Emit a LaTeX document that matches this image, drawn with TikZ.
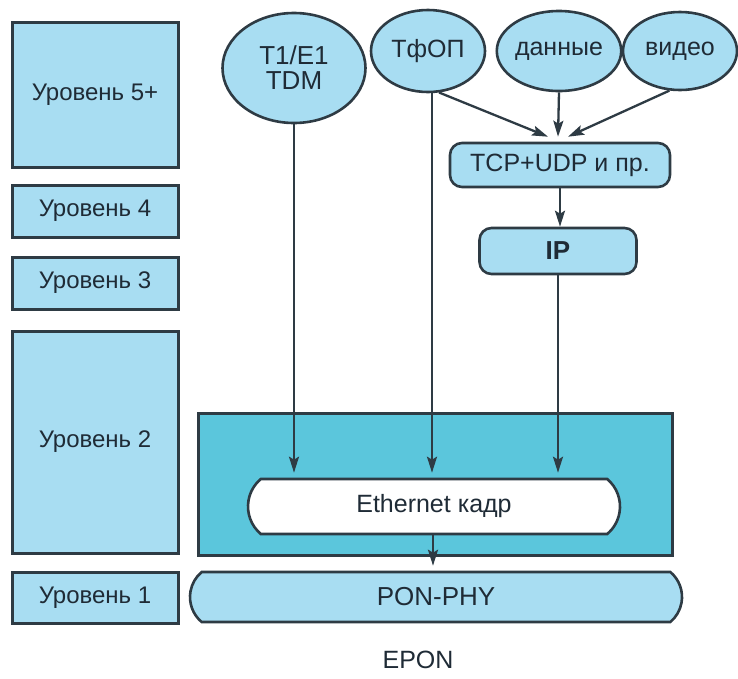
\documentclass[tikz,border=0pt]{standalone}
\usepackage{fontspec}
\setmainfont{Liberation Sans}
\usetikzlibrary{shapes.geometric,shapes.misc,arrows.meta,calc}
\definecolor{lb}{HTML}{A8DDF2}
\definecolor{teal2}{HTML}{5BC6DC}
\definecolor{edge}{HTML}{2E3B44}
\definecolor{txt}{HTML}{1F2B36}
\begin{document}
\begin{tikzpicture}[x=1pt,y=-1pt,
  lvl/.style={draw=edge,line width=3pt,fill=lb,minimum width=166pt,inner sep=0pt,text=txt,font=\fontsize{24}{26}\selectfont},
  ell/.style={ellipse,draw=edge,line width=2.6pt,fill=lb,inner sep=0pt,text=txt,font=\fontsize{25}{27}\selectfont},
  rbox/.style={rectangle,rounded corners=12pt,draw=edge,line width=2.6pt,fill=lb,inner sep=0pt,text=txt,font=\fontsize{25}{27}\selectfont},
  pill/.style={rounded rectangle,rounded rectangle arc length=100,draw=edge,line width=2.6pt,inner sep=0pt,text=txt,font=\fontsize{25}{27}\selectfont},
  arr/.style={draw=edge,line width=2.3pt,-{Stealth[length=16pt,width=10pt,inset=3pt]}},
  plain/.style={draw=edge,line width=2.3pt}]
\useasboundingbox (0,0) rectangle (738,678);
% level boxes
\node[lvl,minimum height=145pt] (l5) at (95,95) {Уровень 5+};
\node[lvl,minimum height=52pt] (l4) at (95,211) {Уровень 4};
\node[lvl,minimum height=52pt] (l3) at (95,283) {Уровень 3};
\node[lvl,minimum height=222pt] (l2) at (95,442) {Уровень 2};
\node[lvl,minimum height=51pt] (l1) at (95,597.5) {Уровень 1};
% layer 2 box
\node[draw=edge,line width=3pt,fill=teal2,minimum width=474pt,minimum height=142pt,inner sep=0pt] (l2box) at (435,484) {};
\node[pill,fill=white,minimum width=372pt,minimum height=55pt] (eth) at (434,506.5) {Ethernet кадр};
\node[pill,fill=lb,minimum width=492pt,minimum height=50pt,font=\fontsize{26}{28}\selectfont] (pon) at (436,597) {PON-PHY};
% sources
\node[ell,minimum width=143pt,minimum height=110pt,align=center,font=\fontsize{26}{25}\selectfont] (t1) at (294,68) {T1/E1\\TDM};
\node[ell,minimum width=114pt,minimum height=82pt] (tfop) at (428,51) {ТфОП};
\node[ell,minimum width=112pt,minimum height=80pt] (data) at (559,51) {данные};
\node[ell,minimum width=114pt,minimum height=78pt] (video) at (680,51) {видео};
% stack
\node[rbox,minimum width=220pt,minimum height=44pt] (tcp) at (560,165) {TCP+UDP и пр.};
\node[rbox,minimum width=157pt,minimum height=46pt,font=\fontsize{26}{28}\selectfont\bfseries] (ip) at (558,251) {IP};
% connectors
\draw[arr] (tfop.285) -- ([xshift=-12pt,yshift=5pt]tcp.north);
\draw[arr] (data.south) -- ([xshift=-2pt,yshift=5pt]tcp.north);
\draw[arr] (video.255) -- ([xshift=8pt,yshift=5pt]tcp.north);
\draw[arr] (tcp.south) -- (tcp.south |- ip.north);
\draw[arr,shorten >=5pt] (t1.south) -- (t1.south |- eth.north);
\draw[arr,shorten >=5pt] ([xshift=4pt]tfop.south) -- ([xshift=4pt]tfop.south |- eth.north);
\draw[arr,shorten >=5pt] (ip.south) -- (ip.south |- eth.north);
\draw[arr,shorten >=5pt] ([xshift=-1pt]eth.south) -- ([xshift=-1pt]eth.south |- pon.north);
% caption
\node[text=txt,font=\fontsize{25}{27}\selectfont] (cap) at (418,660) {EPON};
\end{tikzpicture}
\end{document}
